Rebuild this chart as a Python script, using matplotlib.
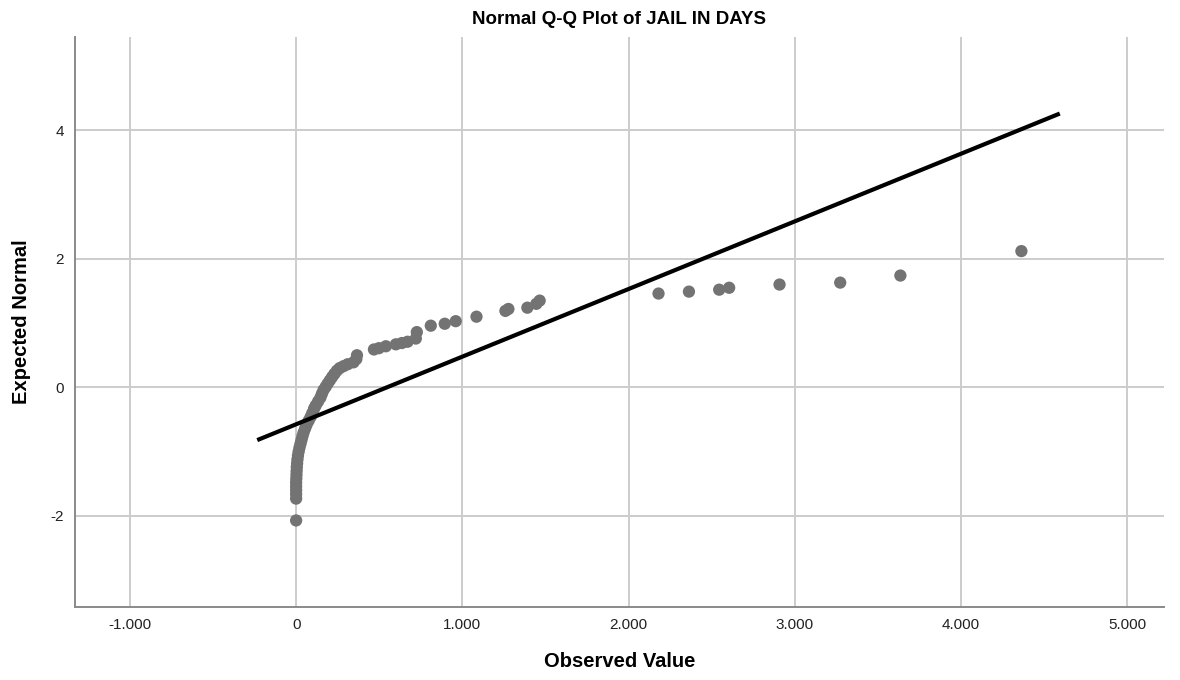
import matplotlib
matplotlib.use("Agg")
import matplotlib.pyplot as plt

plt.rcParams["font.family"] = ["Liberation Sans", "DejaVu Sans"]

TITLE = "Normal Q-Q Plot of JAIL IN DAYS"

observed = [
    0, 0, 0, 0, 0, 0, 1, 2, 3, 4, 6, 8, 11, 15, 20, 26, 32, 38, 45, 54,
    63, 75, 87, 97, 108, 118, 132, 146, 155, 165, 178, 190, 203, 216, 230,
    245, 262, 285, 310, 345, 362, 366,
    468, 498, 540, 600, 636, 670, 720, 726, 810, 894, 960, 1085, 1259,
    1277, 1391, 1445, 1465,
    2180, 2363, 2545, 2605, 2908, 3273, 3635, 4363,
]
expected = [
    -2.07, -1.73, -1.66, -1.60, -1.54, -1.48, -1.42, -1.36, -1.30, -1.24,
    -1.18, -1.12, -1.06, -1.00, -0.94, -0.88, -0.82, -0.76, -0.70, -0.64,
    -0.58, -0.52, -0.46, -0.40, -0.33, -0.28, -0.22, -0.16, -0.10, -0.04,
    0.01, 0.06, 0.11, 0.16, 0.21, 0.26, 0.30, 0.33, 0.36, 0.39, 0.44, 0.50,
    0.59, 0.61, 0.64, 0.67, 0.69, 0.71, 0.76, 0.86, 0.96, 0.99, 1.03, 1.10,
    1.19, 1.22, 1.24, 1.30, 1.35,
    1.46, 1.49, 1.52, 1.55, 1.60, 1.63, 1.74, 2.12,
]

# reference line endpoints
line_x = [-234, 4594]
line_y = [-0.82, 4.26]

x_ticks = [-1000, 0, 1000, 2000, 3000, 4000, 5000]
x_tick_labels = ["-1.000", "0", "1.000", "2.000", "3.000", "4.000", "5.000"]
y_ticks = [-2, 0, 2, 4]
y_tick_labels = ["-2", "0", "2", "4"]

fig = plt.figure(figsize=(11.8, 6.8), dpi=100)
ax = fig.add_axes([0.0636, 0.107, 0.923, 0.8385])

ax.set_xlim(-1330, 5222)
ax.set_ylim(-3.42, 5.45)

ax.set_xticks(x_ticks)
ax.set_xticklabels(x_tick_labels)
ax.set_yticks(y_ticks)
ax.set_yticklabels(y_tick_labels)
ax.tick_params(length=0, labelsize=11, pad=8, colors="#222222")

ax.grid(True, color="#cccccc", linewidth=1.4)
ax.set_axisbelow(True)

for side in ("top", "right"):
    ax.spines[side].set_visible(False)
for side in ("left", "bottom"):
    ax.spines[side].set_color("#8a8a8a")
    ax.spines[side].set_linewidth(1.4)

ax.scatter(observed, expected, s=78, color="#737373", edgecolors="none", zorder=3)
ax.plot(line_x, line_y, color="black", linewidth=3, solid_capstyle="butt", zorder=4)

fig.text(0.525, 0.972, TITLE, ha="center", va="center", fontsize=13.5, fontweight="bold")
ax.set_xlabel("Observed Value", fontsize=14.5, fontweight="bold", labelpad=14)
ax.set_ylabel("Expected Normal", fontsize=14.5, fontweight="bold", labelpad=14)

fig.savefig("out.png", dpi=100)
